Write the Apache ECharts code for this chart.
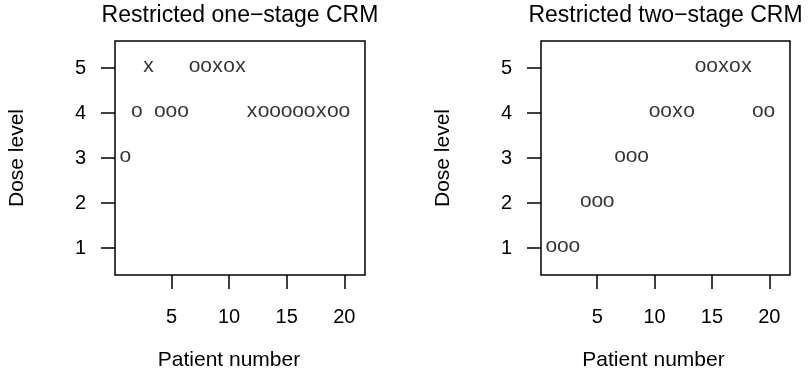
<!DOCTYPE html>
<html>
<head>
<meta charset="utf-8">
<script src="https://cdn.jsdelivr.net/npm/echarts@6/dist/echarts.min.js"></script>
<style>
  html, body { margin: 0; padding: 0; background: #fff; }
  #chart { width: 809px; height: 383px; }
</style>
</head>
<body>
<div id="chart"></div>
<script>
// Dose-escalation trajectories: dose level given to each patient, with
// "o" = no toxicity and "x" = dose-limiting toxicity.
const patients = [1, 2, 3, 4, 5, 6, 7, 8, 9, 10, 11, 12, 13, 14, 15, 16, 17, 18, 19, 20];

const oneStageDose    = [3, 4, 5, 4, 4, 4, 5, 5, 5, 5, 5, 4, 4, 4, 4, 4, 4, 4, 4, 4];
const oneStageOutcome = ['o','o','x','o','o','o','o','o','x','o','x','x','o','o','o','o','o','x','o','o'];

const twoStageDose    = [1, 1, 1, 2, 2, 2, 3, 3, 3, 4, 4, 4, 4, 5, 5, 5, 5, 5, 4, 4];
const twoStageOutcome = ['o','o','o','o','o','o','o','o','o','o','o','x','o','o','o','x','o','x','o','o'];

const panelTitles = ['Restricted one\u2212stage CRM', 'Restricted two\u2212stage CRM'];
const xTicks = [5, 10, 15, 20];
const yTicks = [1, 2, 3, 4, 5];
const xLabel = 'Patient number';
const yLabel = 'Dose level';

const FONT = '"Liberation Sans", Arial, Helvetica, sans-serif';
const INK = '#000';

const chart = echarts.init(document.getElementById('chart'), null, { renderer: 'canvas' });

const grids = [
  { left: 115, top: 41, width: 250, height: 234 },
  { left: 541, top: 41, width: 249, height: 234 }
];
// x-axis titles sit slightly left of the panel centre
const xNameShift = [22, 24];

function makeX(i) {
  return {
    gridIndex: i, type: 'value', min: 0.1, max: 21.8,
    name: xLabel, nameLocation: 'middle', nameGap: 75,
    nameTextStyle: { color: INK, fontSize: 21, fontFamily: FONT, padding: [0, xNameShift[i], 0, 0] },
    axisLine: { show: false },
    axisTick: { show: true, length: 14, customValues: xTicks, lineStyle: { color: INK, width: 1.5 } },
    axisLabel: { show: true, margin: 32, customValues: xTicks, color: INK, fontSize: 20, fontFamily: FONT },
    splitLine: { show: false }
  };
}

function makeY(i) {
  return {
    gridIndex: i, type: 'value', min: 0.4, max: 5.6,
    name: yLabel, nameLocation: 'middle', nameGap: 87,
    nameTextStyle: { color: INK, fontSize: 21, fontFamily: FONT },
    axisLine: { show: false },
    axisTick: { show: true, length: 14, customValues: yTicks, lineStyle: { color: INK, width: 1.5 } },
    axisLabel: { show: true, margin: 29, customValues: yTicks, color: INK, fontSize: 20, fontFamily: FONT },
    splitLine: { show: false }
  };
}

function makeSeries(i, doses, outcomes) {
  return {
    type: 'scatter', xAxisIndex: i, yAxisIndex: i,
    symbolSize: 0.1,
    itemStyle: { color: 'rgba(0,0,0,0)' },
    data: patients.map((p, k) => [p, doses[k], outcomes[k]]),
    label: {
      show: true, position: 'inside', offset: [0, -2],
      formatter: (prm) => prm.value[2],
      color: INK, fontSize: 21, fontFamily: FONT
    },
    emphasis: { disabled: true },
    silent: true, animation: false
  };
}

chart.setOption({
  backgroundColor: '#fff',
  animation: false,
  title: panelTitles.map((t, i) => ({
    text: t,
    left: grids[i].left + grids[i].width / 2,
    textAlign: 'center',
    top: 4,
    padding: 0,
    textStyle: { color: INK, fontSize: 23, fontWeight: 'normal', fontFamily: FONT }
  })),
  grid: grids.map(g => Object.assign({ show: true, borderColor: INK, borderWidth: 1.5, backgroundColor: 'transparent', containLabel: false }, g)),
  xAxis: [makeX(0), makeX(1)],
  yAxis: [makeY(0), makeY(1)],
  series: [
    makeSeries(0, oneStageDose, oneStageOutcome),
    makeSeries(1, twoStageDose, twoStageOutcome)
  ]
});
</script>
</body>
</html>
